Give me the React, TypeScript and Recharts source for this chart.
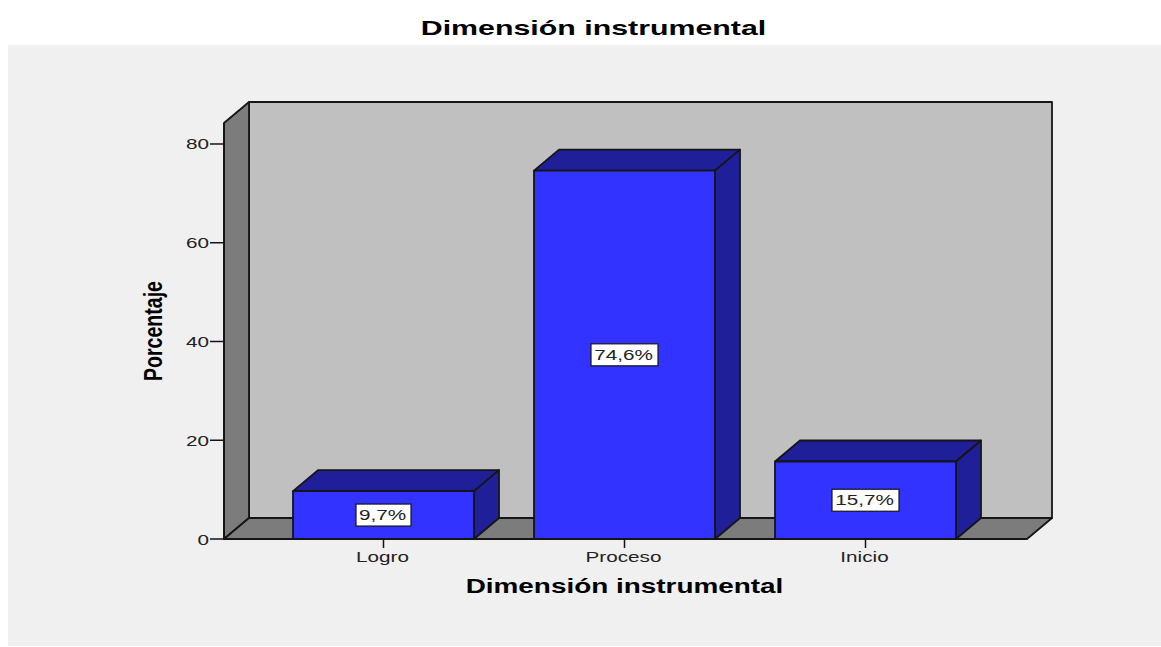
import React from 'react'
import { BarChart, Bar, XAxis, YAxis, ReferenceArea, LabelList, Label } from 'recharts'

const categories = ['Logro', 'Proceso', 'Inicio']
const percentages = [9.7, 74.6, 15.7]
const yTicks = [0, 20, 40, 60, 80]
const yMax = 84.25
const chartTitle = 'Dimensión instrumental'
const xTitle = 'Dimensión instrumental'
const yTitle = 'Porcentaje'

const DEPTH_X = 25
const DEPTH_Y = 21
const PAD_LEFT = 39
const PAD_RIGHT = 41
const INK = '#151515'

const chartData = categories.map((name, i) => ({ name, value: percentages[i] }))

const formatPercent = (value: number) => `${value.toFixed(1).replace('.', ',')}%`

const pts = (list: number[][]) => list.map(p => p.join(',')).join(' ')

// the original is a stretched bitmap, so text gets a horizontal scale
function WideText({ x, y, size, stretch = 1.38, bold, anchor = 'middle', children }: any) {
  return (
    <text
      transform={`translate(${x},${y}) scale(${stretch},1)`}
      textAnchor={anchor}
      fontFamily="Liberation Sans"
      fontSize={size}
      fontWeight={bold ? 700 : 400}
      fill={bold ? '#000' : '#222'}
    >
      {children}
    </text>
  )
}

// the reference area only covers the padded band range, so widen it back to the full plot
function Walls({ x: bandX, y, width, height }: any) {
  const x = bandX - PAD_LEFT
  const right = bandX + width + PAD_RIGHT
  const bottom = y + height
  const back = { l: x + DEPTH_X, r: right + DEPTH_X, t: y - DEPTH_Y, b: bottom - DEPTH_Y }
  return (
    <g stroke={INK} strokeWidth={1.8} strokeLinejoin="round">
      <rect x={back.l} y={back.t} width={back.r - back.l} height={back.b - back.t} fill="#c0c0c0" />
      <polygon points={pts([[x, y], [back.l, back.t], [back.l, back.b], [x, bottom]])} fill="#7c7c7c" />
      <polygon points={pts([[x, bottom], [back.l, back.b], [back.r, back.b], [right, bottom]])} fill="#7c7c7c" />
    </g>
  )
}

function Box3D({ x, y, width, height }: any) {
  const right = x + width
  const bottom = y + height
  return (
    <g stroke={INK} strokeWidth={1.8} strokeLinejoin="round">
      <polygon
        points={pts([[x, y], [x + DEPTH_X, y - DEPTH_Y], [right + DEPTH_X, y - DEPTH_Y], [right, y]])}
        fill="#1f1f99"
      />
      <polygon
        points={pts([[right, y], [right + DEPTH_X, y - DEPTH_Y], [right + DEPTH_X, bottom - DEPTH_Y], [right, bottom]])}
        fill="#1f1f99"
      />
      <rect x={x} y={y} width={width} height={height} fill="#3333ff" />
    </g>
  )
}

function ValueTag({ x, y, width, height, value }: any) {
  const cx = x + width / 2
  const cy = y + height / 2
  const text = formatPercent(value)
  const boxW = text.length > 4 ? 67 : 55
  return (
    <g>
      <rect x={cx - boxW / 2} y={cy - 11} width={boxW} height={22} fill="#fff" stroke={INK} strokeWidth={1.2} />
      <WideText x={cx - 1} y={cy + 5} size={15}>{text}</WideText>
    </g>
  )
}

function XTick({ x, y, payload }: any) {
  return <WideText x={x - 1} y={y + 14} size={15}>{payload.value}</WideText>
}

function YTick({ x, y, payload }: any) {
  return <WideText x={x} y={y + 5.5} size={15} anchor="end">{payload.value}</WideText>
}

function XTitle({ viewBox }: any) {
  return (
    <WideText x={viewBox.x + viewBox.width / 2 - 1} y={viewBox.y + 54} size={20} stretch={1.395} bold>
      {xTitle}
    </WideText>
  )
}

function YTitle({ viewBox }: any) {
  const cx = viewBox.x - 2
  const cy = viewBox.y + viewBox.height / 2
  return (
    <text
      transform={`translate(${cx},${cy}) rotate(-90) scale(0.767,1)`}
      textAnchor="middle"
      fontFamily="Liberation Sans"
      fontSize={25.5}
      fontWeight={700}
      fill="#000"
    >
      {yTitle}
    </text>
  )
}

export default function App() {
  return (
    <div style={{ position: 'absolute', left: 0, top: 0, width: 1161, height: 647, background: '#fff', overflow: 'hidden' }}>
      <div style={{ position: 'absolute', left: 8, top: 45, width: 1153, height: 601, background: '#f0f0f0' }} />
      <svg style={{ position: 'absolute', left: 0, top: 0 }} width={1161} height={45}>
        <WideText x={593.5} y={35} size={20} stretch={1.517} bold>{chartTitle}</WideText>
      </svg>
      <div style={{ position: 'absolute', left: 0, top: 0 }}>
        <BarChart
          width={1161}
          height={647}
          data={chartData}
          barSize={181}
          margin={{ top: 123, right: 134, left: 164, bottom: 68 }}
        >
          <ReferenceArea y1={0} y2={yMax} shape={<Walls />} ifOverflow="visible" />
          <XAxis
            dataKey="name"
            height={40}
            padding={{ left: PAD_LEFT, right: PAD_RIGHT }}
            tickSize={9}
            tickMargin={0}
            tick={<XTick />}
            axisLine={{ stroke: INK, strokeWidth: 1.8 }}
            tickLine={{ stroke: INK, strokeWidth: 1.5 }}
          >
            <Label content={<XTitle />} />
          </XAxis>
          <YAxis
            width={60}
            domain={[0, yMax]}
            ticks={yTicks}
            tickSize={14}
            tickMargin={1}
            tick={<YTick />}
            axisLine={{ stroke: INK, strokeWidth: 1.8 }}
            tickLine={{ stroke: INK, strokeWidth: 1.5 }}
          >
            <Label content={<YTitle />} />
          </YAxis>
          <Bar dataKey="value" shape={<Box3D />} isAnimationActive={false}>
            <LabelList dataKey="value" content={<ValueTag />} />
          </Bar>
        </BarChart>
      </div>
    </div>
  )
}
